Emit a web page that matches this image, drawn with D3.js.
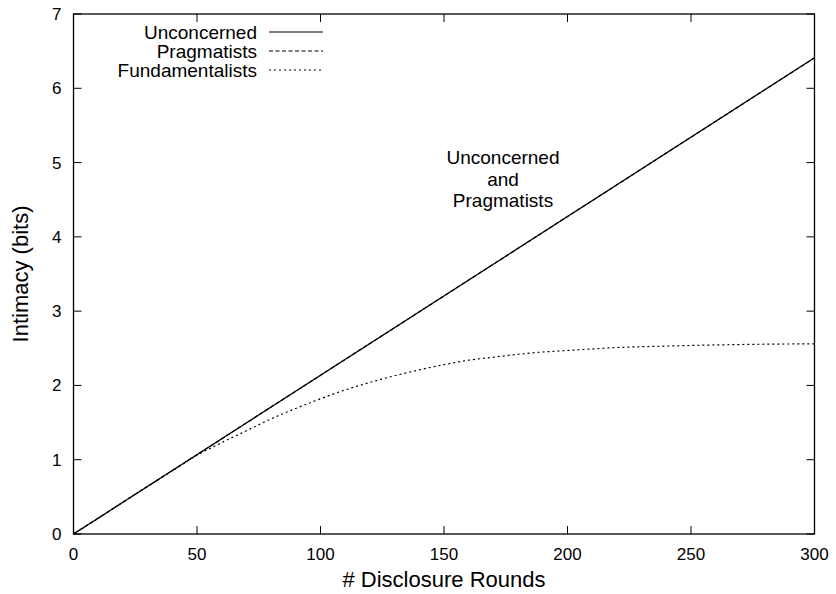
<!DOCTYPE html>
<html>
<head>
<meta charset="utf-8">
<script src="https://cdn.jsdelivr.net/npm/d3@7"></script>
<style>
  html, body { margin: 0; padding: 0; background: #fff; }
  text { font-family: "Liberation Sans", Arial, Helvetica, sans-serif; fill: #000; }
</style>
</head>
<body>
<svg id="chart" width="836" height="594"></svg>
<script>
// ---- data ----
const xTicks = [0, 50, 100, 150, 200, 250, 300];
const yTicks = [0, 1, 2, 3, 4, 5, 6, 7];
const unconcernedX = [0, 300];
const unconcernedY = [0, 6.41];
const pragmatistsX = [0, 300];
const pragmatistsY = [0, 6.41];
const fundamentalistsX = [0, 10, 20, 30, 40, 50, 60, 70, 80, 90, 100, 110, 120, 130, 140, 150, 160, 170, 180, 190, 200, 220, 240, 260, 280, 300];
const fundamentalistsY = [0, 0.21, 0.43, 0.64, 0.85, 1.06, 1.23, 1.39, 1.55, 1.69, 1.82, 1.94, 2.04, 2.13, 2.21, 2.28, 2.34, 2.38, 2.42, 2.45, 2.47, 2.51, 2.53, 2.545, 2.555, 2.56];
const seriesNames = ["Unconcerned", "Pragmatists", "Fundamentalists"];
const annotation = ["Unconcerned", "and", "Pragmatists"];

// ---- layout ----
const svg = d3.select("#chart");
const L = 73.5, R = 814.5, T = 14, B = 534;
const x = d3.scaleLinear().domain([0, 300]).range([L, R]);
const y = d3.scaleLinear().domain([0, 7]).range([B, T]);
const tickLen = 8;

const g = svg.append("g");

// frame
g.append("rect").attr("x", L).attr("y", T).attr("width", R - L).attr("height", B - T)
  .attr("fill", "none").attr("stroke", "#000").attr("stroke-width", 1.3);

// ticks (mirrored, inward)
xTicks.forEach(v => {
  const px = x(v);
  g.append("line").attr("x1", px).attr("x2", px).attr("y1", B).attr("y2", B - tickLen).attr("stroke", "#000").attr("stroke-width", 1);
  g.append("line").attr("x1", px).attr("x2", px).attr("y1", T).attr("y2", T + tickLen).attr("stroke", "#000").attr("stroke-width", 1);
  g.append("text").attr("x", px).attr("y", B + 26).attr("text-anchor", "middle").attr("font-size", 17).text(v);
});
yTicks.forEach(v => {
  const py = y(v);
  g.append("line").attr("x1", L).attr("x2", L + tickLen).attr("y1", py).attr("y2", py).attr("stroke", "#000").attr("stroke-width", 1);
  g.append("line").attr("x1", R).attr("x2", R - tickLen).attr("y1", py).attr("y2", py).attr("stroke", "#000").attr("stroke-width", 1);
  g.append("text").attr("x", L - 12).attr("y", py + 6).attr("text-anchor", "end").attr("font-size", 17).text(v);
});

// axis titles
g.append("text").attr("x", (L + R) / 2).attr("y", 587).attr("text-anchor", "middle").attr("font-size", 22).text("# Disclosure Rounds");
g.append("text").attr("transform", `translate(28,${(T + B) / 2}) rotate(-90)`).attr("text-anchor", "middle").attr("font-size", 22).text("Intimacy (bits)");

// lines
const line = d3.line().x(d => x(d[0])).y(d => y(d[1])).curve(d3.curveMonotoneX);
const styles = [
  { dash: null },
  { dash: "4,2.5" },
  { dash: "2,3" }
];
const series = [
  d3.zip(unconcernedX, unconcernedY),
  d3.zip(pragmatistsX, pragmatistsY),
  d3.zip(fundamentalistsX, fundamentalistsY)
];
series.forEach((s, i) => {
  g.append("path").attr("d", line(s)).attr("fill", "none").attr("stroke", "#000")
    .attr("stroke-width", 1.2).attr("stroke-dasharray", styles[i].dash);
});

// legend
const legY = [32, 51, 70];
seriesNames.forEach((n, i) => {
  g.append("text").attr("x", 257).attr("y", legY[i] + 6.5).attr("text-anchor", "end").attr("font-size", 19).text(n);
  g.append("line").attr("x1", 269).attr("x2", 323).attr("y1", legY[i]).attr("y2", legY[i])
    .attr("stroke", "#000").attr("stroke-width", 1.2).attr("stroke-dasharray", styles[i].dash);
});

// annotation
annotation.forEach((t, i) => {
  g.append("text").attr("x", 503).attr("y", 164 + i * 21.5).attr("text-anchor", "middle").attr("font-size", 19).text(t);
});
</script>
</body>
</html>
